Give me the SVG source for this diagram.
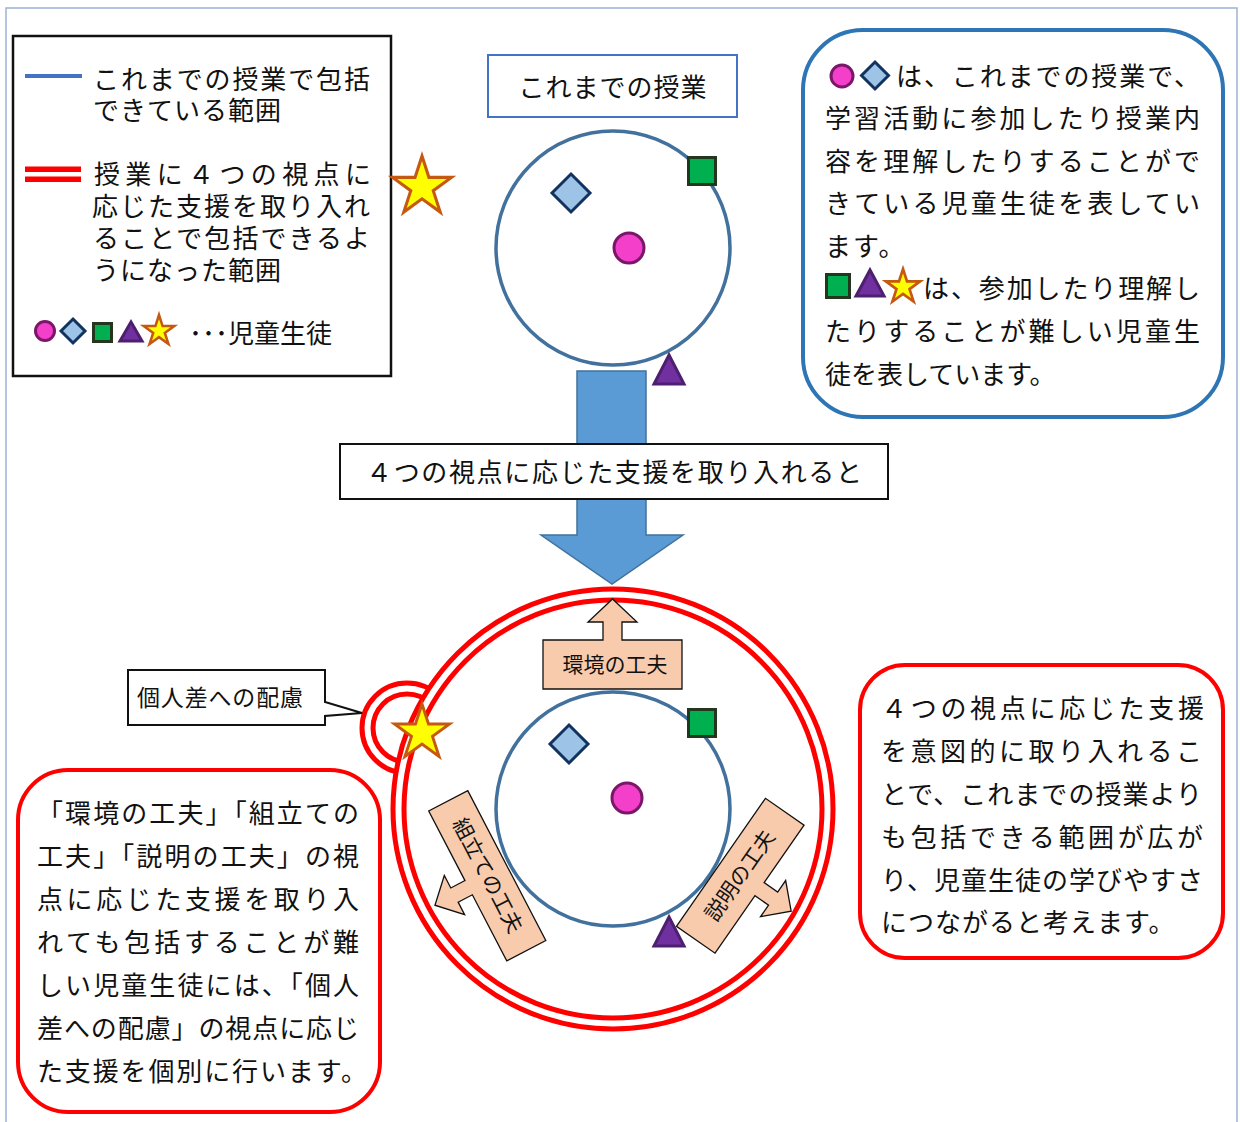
<svg xmlns="http://www.w3.org/2000/svg" width="1240" height="1122" viewBox="0 0 1240 1122">
<style>
  text { font-family: "Noto Sans CJK JP", "Noto Sans", sans-serif; fill: #111; dominant-baseline: central; }
  .f26 { font-size: 26px; }
  .f23 { font-size: 23px; }
  .f21 { font-size: 21px; }
  .star { fill: #FFFF00; stroke: #C65911; stroke-linejoin: miter; }
  .pink { fill: #F43FCB; stroke: #7A1768; stroke-width: 3; }
  .dia { fill: #9DC3E6; stroke: #12325F; stroke-width: 3; stroke-linejoin: miter; }
  .sq { fill: #00B050; stroke: #22371E; stroke-width: 3; }
  .tri { fill: #7030A0; stroke: #4E1F6E; stroke-width: 3; stroke-linejoin: miter; }
  .ring { fill: none; stroke: #41719C; stroke-width: 3.5; }
  .red { fill: none; stroke: #FF0000; stroke-width: 5; }
  .peach { fill: #F8CBAD; stroke: #111; stroke-width: 1.3; }
</style>
<defs>
  <path id="star" d="M0,-1 L0.2245,-0.309 L0.951,-0.309 L0.363,0.118 L0.588,0.809 L0,0.382 L-0.588,0.809 L-0.363,0.118 L-0.951,-0.309 L-0.2245,-0.309 Z"/>
</defs>

<path id="page-border" d="M6,1122 V8 H1237 V1122" fill="none" stroke="#9DB3D3" stroke-width="1.5"/>

<g id="legend">
  <rect x="13" y="36" width="378" height="340" fill="#fff" stroke="#111" stroke-width="2.5"/>
  <line x1="25" y1="76" x2="82" y2="76" stroke="#4472C4" stroke-width="4"/>
  <text class="f26" x="93" y="77" textLength="277" lengthAdjust="spacing">これまでの授業で包括</text>
  <text class="f26" x="93" y="108" letter-spacing="1">できている範囲</text>
  <rect x="25" y="166.5" width="56" height="5.5" fill="#FF0000"/>
  <rect x="25" y="176.5" width="56" height="5.5" fill="#FF0000"/>
  <text class="f26" x="94" y="172" textLength="277" lengthAdjust="spacing">授業に４つの視点に</text>
  <text class="f26" x="92" y="204" textLength="278" lengthAdjust="spacing">応じた支援を取り入れ</text>
  <text class="f26" x="93" y="236" textLength="277" lengthAdjust="spacing">ることで包括できるよ</text>
  <text class="f26" x="93" y="268" letter-spacing="1">うになった範囲</text>
  <circle class="pink" cx="45" cy="331" r="9.5"/>
  <polygon class="dia" points="73,319 85,331 73,343 61,331"/>
  <rect class="sq" x="93.5" y="323.5" width="18" height="18"/>
  <polygon class="tri" points="131,322 142,341 120,341" stroke-width="2.5"/>
  <use href="#star" class="star" transform="translate(159,331) scale(16)" stroke-width="0.16"/>
  <text class="f26" x="189" y="331">･･･児童生徒</text>
</g>

<g id="legend-star">
  <use href="#star" class="star" transform="translate(422,187) scale(31)" stroke-width="0.1"/>
</g>

<g id="title-box">
  <rect x="488" y="55" width="249" height="62" fill="#fff" stroke="#4472C4" stroke-width="2"/>
  <text class="f26" x="613" y="85" text-anchor="middle" letter-spacing="1">これまでの授業</text>
</g>

<g id="upper-circle">
  <circle class="ring" cx="613" cy="248" r="117"/>
  <polygon class="dia" points="571,174 590,193 571,212 552,193"/>
  <circle class="pink" cx="629" cy="248" r="15"/>
  <rect class="sq" x="688.5" y="157.5" width="27" height="27"/>
  <polygon class="tri" points="669,355 684,384 654,384"/>
</g>

<g id="connectors">
  <path d="M577,371 H646 V535 H683 L612,584 L541,535 H577 Z" fill="#5B9BD5" stroke="#41719C" stroke-width="1.5"/>
</g>

<g id="step-label">
  <rect x="340" y="444" width="548" height="55" fill="#fff" stroke="#111" stroke-width="2"/>
  <text class="f26" x="366" y="470" textLength="496" lengthAdjust="spacing">４つの視点に応じた支援を取り入れると</text>
</g>

<g id="note-blue">
  <rect x="803" y="30" width="420" height="387" rx="60" ry="60" fill="#fff" stroke="#2E75B6" stroke-width="4"/>
  <circle class="pink" cx="842" cy="76" r="11"/>
  <polygon class="dia" points="875,62 888.5,75.5 875,89 861.5,75.5"/>
  <text class="f26" x="896" y="74" textLength="304" lengthAdjust="spacing">は、これまでの授業で、</text>
  <text class="f26" x="825" y="116" textLength="375" lengthAdjust="spacing">学習活動に参加したり授業内</text>
  <text class="f26" x="825" y="159" textLength="375" lengthAdjust="spacing">容を理解したりすることがで</text>
  <text class="f26" x="825" y="201" textLength="375" lengthAdjust="spacing">きている児童生徒を表してい</text>
  <text class="f26" x="825" y="244" letter-spacing="2">ます。</text>
  <rect class="sq" x="826.5" y="274.5" width="23" height="23"/>
  <polygon class="tri" points="870,270 884,296 856,296"/>
  <use href="#star" class="star" transform="translate(903,287) scale(18)" stroke-width="0.15"/>
  <text class="f26" x="923" y="286" textLength="277" lengthAdjust="spacing">は、参加したり理解し</text>
  <text class="f26" x="825" y="329" textLength="375" lengthAdjust="spacing">たりすることが難しい児童生</text>
  <text class="f26" x="825" y="372">徒を表しています。</text>
</g>

<g id="small-ring">
  <circle class="red" cx="407" cy="728" r="45"/>
  <circle class="red" cx="407" cy="728" r="34"/>
</g>

<g id="big-ring">
  <circle cx="613" cy="809" r="220" fill="#fff" stroke="#FF0000" stroke-width="5"/>
  <circle class="red" cx="613" cy="809" r="209"/>
</g>

<g id="individual-star">
  <use href="#star" class="star" transform="translate(422,733) scale(29)" stroke-width="0.1"/>
</g>

<g id="callout-individual">
  <path d="M128,670 H325 V702 L362,713 L325,716 V725 H128 Z" fill="#fff" stroke="#111" stroke-width="2"/>
  <text class="f23" x="137" y="696" textLength="166" lengthAdjust="spacing">個人差への配慮</text>
</g>

<g id="callout-environment">
  <path class="peach" d="M543,640 H603 V622 H588 L612.5,599 L637,622 H622 V640 H682 V689 H543 Z"/>
  <text class="f21" x="615" y="663" text-anchor="middle">環境の工夫</text>
</g>

<g id="lower-circle">
  <circle class="ring" cx="613" cy="809" r="117"/>
  <polygon class="dia" points="569,725 588,744 569,763 550,744"/>
  <circle class="pink" cx="627" cy="798" r="15"/>
  <rect class="sq" x="688.5" y="709.5" width="27" height="27"/>
  <polygon class="tri" points="669,917 684,946 654,946"/>
</g>

<g id="callout-assembly" transform="translate(487.25,875.75) rotate(62.5)">
  <path class="peach" d="M-84.5,-22 H84.5 V22 H10 V38 H24 L2,60 L-20,38 H-6 V22 H-84.5 Z"/>
  <text class="f21" x="0" y="-2" text-anchor="middle">組立ての工夫</text>
</g>

<g id="callout-explain" transform="translate(740.25,875.75) rotate(-55.2)">
  <path class="peach" d="M-78,-23.5 H78 V23.5 H8 V40 H22 L0,62 L-22,40 H-8 V23.5 H-78 Z"/>
  <text class="f21" x="0" y="-2" text-anchor="middle">説明の工夫</text>
</g>

<g id="note-red-right">
  <rect x="860" y="665" width="363" height="293" rx="45" ry="45" fill="#fff" stroke="#FF0000" stroke-width="4"/>
  <text class="f26" x="881" y="706" textLength="323" lengthAdjust="spacing">４つの視点に応じた支援</text>
  <text class="f26" x="881" y="749" textLength="321" lengthAdjust="spacing">を意図的に取り入れるこ</text>
  <text class="f26" x="881" y="792" textLength="321" lengthAdjust="spacing">とで、これまでの授業より</text>
  <text class="f26" x="881" y="835" textLength="322" lengthAdjust="spacing">も包括できる範囲が広が</text>
  <text class="f26" x="881" y="878" textLength="322" lengthAdjust="spacing">り、児童生徒の学びやすさ</text>
  <text class="f26" x="881" y="920" letter-spacing="1">につながると考えます。</text>
</g>

<g id="note-red-left">
  <rect x="18" y="770" width="362" height="342" rx="50" ry="50" fill="#fff" stroke="#FF0000" stroke-width="4"/>
  <text class="f26" x="37" y="811" textLength="322" lengthAdjust="spacing">「環境の工夫」「組立ての</text>
  <text class="f26" x="37" y="854" textLength="322" lengthAdjust="spacing">工夫」「説明の工夫」の視</text>
  <text class="f26" x="37" y="897" textLength="322" lengthAdjust="spacing">点に応じた支援を取り入</text>
  <text class="f26" x="37" y="940" textLength="322" lengthAdjust="spacing">れても包括することが難</text>
  <text class="f26" x="37" y="983" textLength="322" lengthAdjust="spacing">しい児童生徒には、「個人</text>
  <text class="f26" x="37" y="1026" textLength="322" lengthAdjust="spacing">差への配慮」の視点に応じ</text>
  <text class="f26" x="37" y="1069" textLength="330" lengthAdjust="spacing">た支援を個別に行います。</text>
</g>
</svg>
